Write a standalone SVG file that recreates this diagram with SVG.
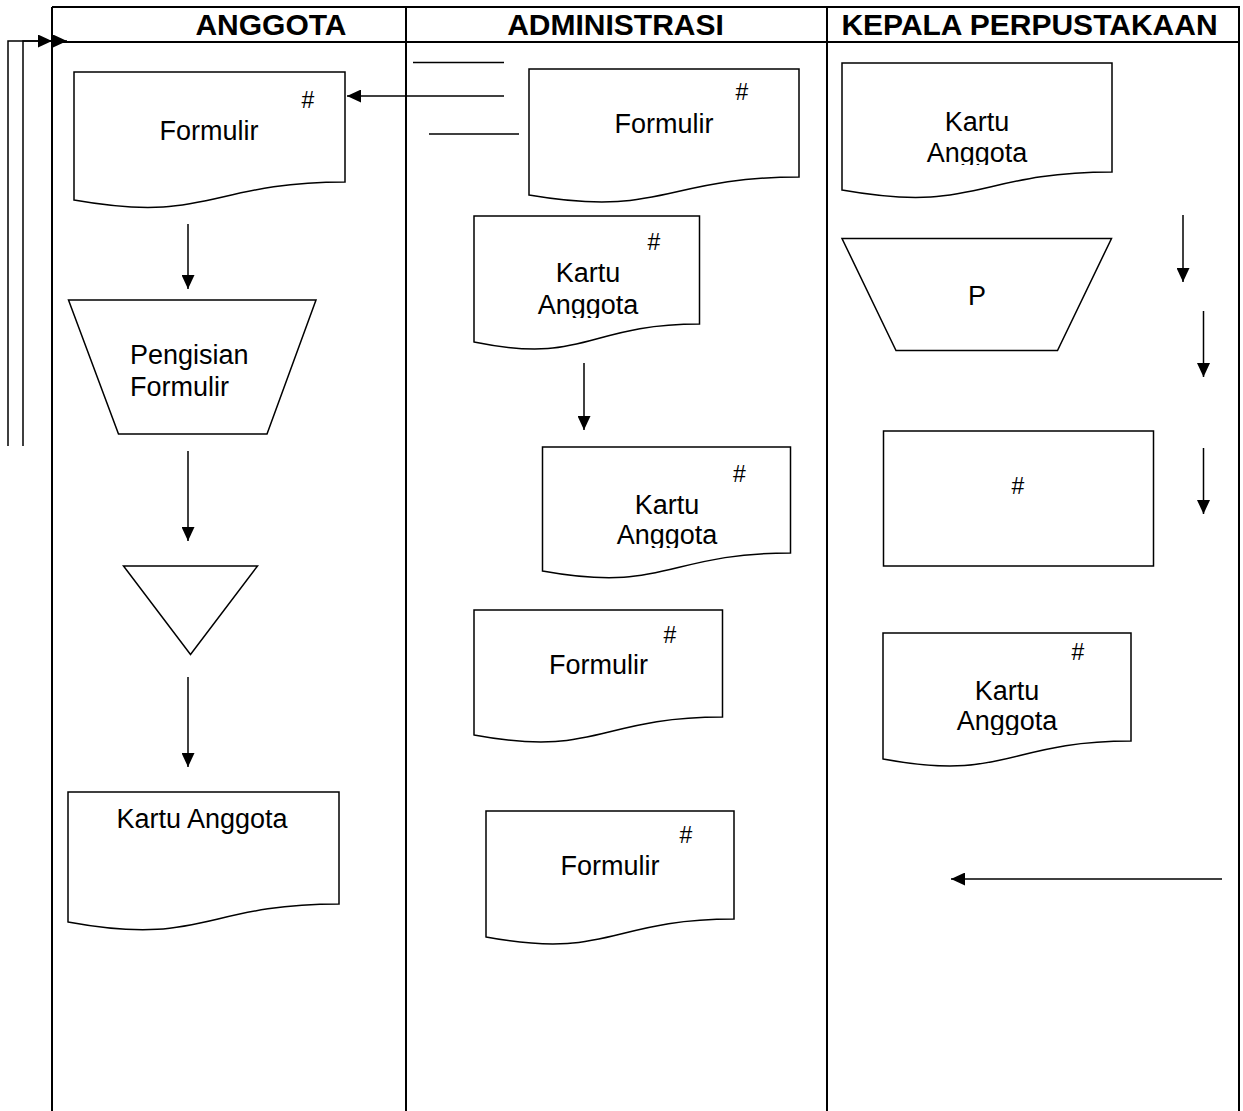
<svg xmlns="http://www.w3.org/2000/svg" width="1243" height="1111" viewBox="0 0 1243 1111">
<style>
.tbl{stroke:#000;stroke-width:2;fill:none}
.shape{stroke:#000;stroke-width:1.5;fill:#fff}
.conn{stroke:#000;stroke-width:1.5;fill:none}
.hdr{font-family:"Liberation Sans",Arial,sans-serif;font-weight:bold;font-size:30px;text-anchor:middle;fill:#000}
.lbl{font-family:"Liberation Sans",Arial,sans-serif;font-size:27px;text-anchor:middle;fill:#000}
.lblL{font-family:"Liberation Sans",Arial,sans-serif;font-size:27px;fill:#000}
.hash{font-family:"Liberation Sans",Arial,sans-serif;font-size:23px;text-anchor:middle;fill:#000}
</style>
<defs>
<marker id="ah" markerUnits="userSpaceOnUse" markerWidth="14" markerHeight="13" refX="14" refY="6.5" orient="auto">
<path d="M0,0 L14,6.5 L0,13 Z" fill="#000"/>
</marker>
<clipPath id="c1"><rect x="470" y="210" width="235" height="108"/></clipPath>
<clipPath id="c2"><rect x="540" y="440" width="255" height="108"/></clipPath>
<clipPath id="c3"><rect x="838" y="60" width="280" height="105"/></clipPath>
<clipPath id="c4"><rect x="880" y="630" width="255" height="105"/></clipPath>
</defs>
<rect width="1243" height="1111" fill="#fff"/>
<g id="table">
<line class="tbl" x1="52" y1="7" x2="1240" y2="7"/>
<line class="tbl" x1="52" y1="42" x2="1240" y2="42"/>
<line class="tbl" x1="52" y1="7" x2="52" y2="1111"/>
<line class="tbl" x1="406" y1="7" x2="406" y2="1111"/>
<line class="tbl" x1="827" y1="7" x2="827" y2="1111"/>
<line class="tbl" x1="1239" y1="7" x2="1239" y2="1111"/>
<text class="hdr" x="271" y="35">ANGGOTA</text>
<text class="hdr" x="615.5" y="35">ADMINISTRASI</text>
<text class="hdr" x="1029.5" y="35">KEPALA PERPUSTAKAAN</text>
</g>
<g id="connectors">
<path class="conn" d="M8,446 V41 H52" marker-end="url(#ah)"/>
<path class="conn" d="M23,446 V41 H67" marker-end="url(#ah)"/>
<line class="conn" x1="413" y1="62.5" x2="504" y2="62.5"/>
<line class="conn" x1="504" y1="96" x2="347" y2="96" marker-end="url(#ah)"/>
<line class="conn" x1="429" y1="134" x2="519" y2="134"/>
<line class="conn" x1="188" y1="224" x2="188" y2="289" marker-end="url(#ah)"/>
<line class="conn" x1="188" y1="451" x2="188" y2="541" marker-end="url(#ah)"/>
<line class="conn" x1="188" y1="677" x2="188" y2="767" marker-end="url(#ah)"/>
<line class="conn" x1="584" y1="363" x2="584" y2="430" marker-end="url(#ah)"/>
<line class="conn" x1="1183" y1="215" x2="1183" y2="282" marker-end="url(#ah)"/>
<line class="conn" x1="1203.5" y1="311" x2="1203.5" y2="377" marker-end="url(#ah)"/>
<line class="conn" x1="1203.5" y1="448" x2="1203.5" y2="514" marker-end="url(#ah)"/>
<line class="conn" x1="1222" y1="879" x2="951" y2="879" marker-end="url(#ah)"/>
</g>
<g id="a-formulir">
<path class="shape" d="M74,72 H345 V182 C209.5,182 209.5,224 74,200 Z"/>
<text class="hash" x="308" y="108">#</text>
<text class="lbl" x="209" y="140">Formulir</text>
</g>
<g id="a-pengisian">
<path class="shape" d="M68.5,300 H316 L267,434 H118.5 Z"/>
<text class="lblL" x="130" y="364">Pengisian</text>
<text class="lblL" x="130" y="396">Formulir</text>
</g>
<g id="a-arsip">
<path class="shape" d="M123.5,566 H257.5 L190.5,654.5 Z"/>
</g>
<g id="a-kartu">
<path class="shape" d="M68,792 H339 V904 C203.5,904 203.5,947 68,922 Z"/>
<text class="lblL" x="116.5" y="828">Kartu Anggota</text>
</g>
<g id="b-formulir1">
<path class="shape" d="M529,69 H799 V177 C664,177 664,218 529,195 Z"/>
<text class="hash" x="742" y="100">#</text>
<text class="lbl" x="664" y="133">Formulir</text>
</g>
<g id="b-kartu1">
<path class="shape" d="M474,216 H699.5 V324 C586.5,324 586.5,365 474,342 Z"/>
<text class="hash" x="654" y="250">#</text>
<g clip-path="url(#c1)">
<text class="lbl" x="588" y="282">Kartu</text>
<text class="lbl" x="588" y="313.5">Anggota</text>
</g>
</g>
<g id="b-kartu2">
<path class="shape" d="M542.5,447 H790.5 V553 C666.5,553 666.5,593.5 542.5,571 Z"/>
<text class="hash" x="739.5" y="482">#</text>
<g clip-path="url(#c2)">
<text class="lbl" x="667" y="514">Kartu</text>
<text class="lbl" x="667" y="544">Anggota</text>
</g>
</g>
<g id="b-formulir2">
<path class="shape" d="M474,610 H722.5 V717 C598,717 598,758 474,735 Z"/>
<text class="hash" x="670" y="643">#</text>
<text class="lbl" x="598.5" y="673.5">Formulir</text>
</g>
<g id="b-formulir3">
<path class="shape" d="M486,811 H734 V919 C610,919 610,960 486,937 Z"/>
<text class="hash" x="686" y="843">#</text>
<text class="lbl" x="610" y="875">Formulir</text>
</g>
<g id="c-kartu1">
<path class="shape" d="M842,63 H1112 V172 C977,172 977,214 842,190 Z"/>
<g clip-path="url(#c3)">
<text class="lbl" x="977" y="131">Kartu</text>
<text class="lbl" x="977" y="162">Anggota</text>
</g>
</g>
<g id="c-proses">
<path class="shape" d="M842,238.5 H1111.5 L1057.5,350.5 H896 Z"/>
<text class="lbl" x="977" y="305">P</text>
</g>
<g id="c-arsip">
<rect class="shape" x="883.5" y="431" width="270" height="135"/>
<text class="hash" x="1018" y="494">#</text>
</g>
<g id="c-kartu2">
<path class="shape" d="M883,633 H1131 V741 C1007,741 1007,782 883,759 Z"/>
<text class="hash" x="1078" y="659.5">#</text>
<g clip-path="url(#c4)">
<text class="lbl" x="1007" y="700">Kartu</text>
<text class="lbl" x="1007" y="730">Anggota</text>
</g>
</g>
</svg>
